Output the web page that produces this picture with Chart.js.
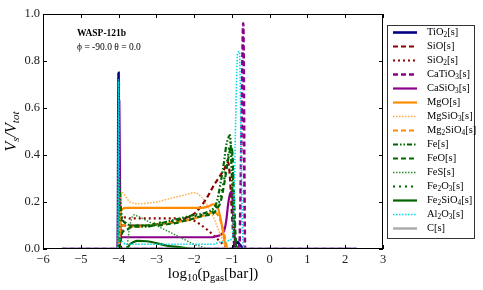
<!DOCTYPE html>
<html>
<head>
<meta charset="utf-8">
<script src="https://cdn.jsdelivr.net/npm/chart.js@4.4.0/dist/chart.umd.min.js"></script>
<style>
    html, body { margin: 0; padding: 0; background: #fff; }
</style>
</head>
<body>
<canvas id="chart" width="483" height="290"></canvas>
<script>
// log10(p_gas) grid shared by every species
const logP = [-5.5, -4.05, -4.02, -4.0, -3.98, -3.95,
    -3.9, -3.8, -3.7, -3.6, -3.5, -3.25,
    -3.0, -2.75, -2.5, -2.25, -2.0, -1.8,
    -1.6, -1.5, -1.4, -1.3, -1.2, -1.15,
    -1.1, -1.05, -1.0, -0.95, -0.9, -0.85,
    -0.8, -0.75, -0.7, -0.65, -0.6, 2.3];

// V_s / V_tot per species
const tio2 = [0, 0, 0, 0.75, 0.04, 0.01,
    0, 0, 0, 0, 0, 0,
    0, 0, 0, 0, 0, 0,
    0, 0, 0, 0, 0, 0,
    0, 0, 0, 0.01, 0.02, 0.03,
    0.02, 0.01, 0, 0, 0, 0];
const sio = [0, 0, 0, 0, 0, 0.04,
    0.1, 0.1, 0.1, 0.1, 0.1, 0.1,
    0.105, 0.11, 0.115, 0.13, 0.15, 0.185,
    0.235, 0.265, 0.29, 0.315, 0.34, 0.36,
    0.37, 0.3, 0.15, 0.03, 0, 0,
    0, 0, 0, 0, 0, 0];
const sio2 = [0, 0, 0, 0, 0, 0.05,
    0.13, 0.135, 0.13, 0.13, 0.13, 0.13,
    0.13, 0.13, 0.13, 0.125, 0.12, 0.1,
    0.075, 0.06, 0.045, 0.03, 0.015, 0.01,
    0, 0, 0, 0, 0, 0,
    0, 0, 0, 0, 0, 0];
const catio3 = [0, 0, 0, 0, 0, 0,
    0, 0, 0, 0, 0, 0,
    0, 0, 0, 0, 0, 0,
    0, 0, 0, 0, 0, 0,
    0, 0, 0, 0, 0, 0,
    0.02, 0.45, 0.96, 0, 0, 0];
const casio3 = [0, 0, 0, 0.5, 0.63, 0.06,
    0.05, 0.05, 0.05, 0.05, 0.05, 0.05,
    0.05, 0.05, 0.05, 0.05, 0.05, 0.05,
    0.05, 0.05, 0.055, 0.06, 0.08, 0.12,
    0.19, 0.235, 0.245, 0.1, 0.01, 0,
    0, 0, 0, 0, 0, 0];
const mgo = [0, 0, 0, 0, 0.05, 0.15,
    0.17, 0.175, 0.175, 0.175, 0.175, 0.175,
    0.175, 0.175, 0.175, 0.175, 0.175, 0.175,
    0.183, 0.19, 0.185, 0.13, 0.04, 0.005,
    0, 0, 0, 0, 0, 0,
    0, 0, 0, 0, 0, 0];
const mgsio3 = [0, 0, 0, 0, 0, 0.2,
    0.24, 0.22, 0.2, 0.195, 0.192, 0.195,
    0.2, 0.21, 0.22, 0.23, 0.24, 0.22,
    0.17, 0.14, 0.1, 0.06, 0.02, 0.01,
    0, 0, 0, 0, 0, 0,
    0, 0, 0, 0, 0, 0];
const mg2sio4 = [0, 0, 0, 0, 0, 0.08,
    0.1, 0.1, 0.095, 0.095, 0.095, 0.1,
    0.105, 0.11, 0.115, 0.12, 0.13, 0.14,
    0.15, 0.155, 0.15, 0.12, 0.06, 0.02,
    0, 0, 0, 0, 0, 0,
    0, 0, 0, 0, 0, 0];
const fe = [0, 0, 0, 0.15, 0.3, 0.2,
    0.13, 0.11, 0.1, 0.095, 0.095, 0.095,
    0.105, 0.115, 0.125, 0.135, 0.145, 0.15,
    0.16, 0.17, 0.2, 0.28, 0.38, 0.44,
    0.47, 0.485, 0.3, 0.1, 0.02, 0,
    0, 0, 0, 0, 0, 0];
const feo = [0, 0, 0, 0, 0, 0.03,
    0.07, 0.08, 0.09, 0.1, 0.1, 0.1,
    0.1, 0.105, 0.11, 0.12, 0.13, 0.14,
    0.145, 0.15, 0.17, 0.2, 0.28, 0.33,
    0.38, 0.42, 0.43, 0.25, 0.05, 0,
    0, 0, 0, 0, 0, 0];
const fes = [0, 0, 0, 0, 0, 0,
    0, 0, 0.1, 0.145, 0.14, 0.12,
    0.1, 0.08, 0.06, 0.04, 0.02, 0.01,
    0, 0, 0, 0, 0, 0,
    0, 0, 0, 0, 0, 0,
    0, 0, 0, 0, 0, 0];
const fe2o3 = [0, 0, 0, 0, 0.1, 0.15,
    0.12, 0.11, 0.1, 0.1, 0.1, 0.1,
    0.11, 0.115, 0.12, 0.13, 0.14, 0.145,
    0.15, 0.16, 0.18, 0.22, 0.3, 0.35,
    0.4, 0.45, 0.42, 0.2, 0.03, 0,
    0, 0, 0, 0, 0, 0];
const fe2sio4 = [0, 0, 0, 0, 0, 0,
    0, 0, 0.02, 0.03, 0.035, 0.033,
    0.025, 0.015, 0.01, 0.005, 0, 0,
    0, 0, 0, 0, 0, 0,
    0, 0, 0, 0, 0, 0,
    0, 0, 0, 0, 0, 0];
const al2o3 = [0, 0, 0, 0.72, 0.05, 0.04,
    0.03, 0.02, 0.02, 0.02, 0.02, 0.02,
    0.02, 0.02, 0.02, 0.02, 0.02, 0.02,
    0.02, 0.02, 0.025, 0.03, 0.03, 0.03,
    0.035, 0.04, 0.04, 0.15, 0.55, 0.83,
    0.84, 0.35, 0.02, 0, 0, 0];
const carbon = [0, 0, 0, 0, 0, 0,
    0, 0, 0, 0, 0, 0,
    0, 0, 0, 0, 0, 0,
    0, 0, 0, 0, 0, 0,
    0, 0, 0, 0, 0, 0,
    0, 0, 0, 0, 0, 0];

const species = ['TiO2[s]', 'SiO[s]', 'SiO2[s]', 'CaTiO3[s]', 'CaSiO3[s]', 'MgO[s]', 'MgSiO3[s]',
    'Mg2SiO4[s]', 'Fe[s]', 'FeO[s]', 'FeS[s]', 'Fe2O3[s]', 'Fe2SiO4[s]', 'Al2O3[s]', 'C[s]'];
const xTicks = [-6, -5, -4, -3, -2, -1, 0, 1, 2, 3];
const yTicks = [0.0, 0.2, 0.4, 0.6, 0.8, 1.0];

const SERIF = '"Liberation Serif", "DejaVu Serif", serif';

// styles: color, dash, width
const styles = [
    ['#000080', [], 2.6],
    ['#8b0000', [5, 3], 2.2],
    ['#8b0000', [2, 3], 2.2],
    ['#8b008b', [5, 3], 2.6],
    ['#8b008b', [], 2.2],
    ['#ff8c00', [], 2.2],
    ['#ffa640', [1.5, 1.5], 1.4],
    ['#ff8c00', [5, 3], 2.2],
    ['#006400', [5, 2, 1.5, 2, 1.5, 2], 2.2],
    ['#006400', [5, 3], 2.2],
    ['#2e8b2e', [1.5, 1.5], 1.4],
    ['#006400', [2, 4], 2.2],
    ['#006400', [], 2.2],
    ['#00d8e8', [1.5, 1.5], 1.6],
    ['#aaaaaa', [], 2.4]
];

const values = [tio2, sio, sio2, catio3, casio3, mgo, mgsio3, mg2sio4, fe, feo, fes, fe2o3, fe2sio4, al2o3, carbon];

const datasets = values.map((vals, i) => ({
    label: species[i],
    data: logP.map((p, j) => ({ x: p, y: vals[j] })),
    borderColor: styles[i][0],
    borderDash: styles[i][1],
    borderWidth: styles[i][2],
    pointRadius: 0,
    fill: false,
    cubicInterpolationMode: 'monotone',
    order: values.length - i
}));

// split a formula into normal and subscript parts
function splitFormula(text) {
    const out = [];
    text.replace(/(\d+)|([^\d]+)/g, (m, d, t) => {
        out.push({ t: m, sub: !!d });
    });
    return out;
}

function partsWidth(ctx, parts, size, style) {
    let w = 0;
    parts.forEach(p => {
        ctx.font = `${style || ''} ${p.sub ? size * 0.7 : size}px ${SERIF}`;
        w += ctx.measureText(p.t).width;
    });
    return w;
}

function drawParts(ctx, parts, x, y, size, style) {
    parts.forEach(p => {
        ctx.font = `${style || ''} ${p.sub ? size * 0.7 : size}px ${SERIF}`;
        ctx.fillText(p.t, x, p.sub ? y + size * 0.25 : y);
        x += ctx.measureText(p.t).width;
    });
}

const framePlugin = {
    id: 'frame',
    afterDraw(chart) {
        const ctx = chart.ctx;
        const a = chart.chartArea;
        const xs = chart.scales.x, ys = chart.scales.y;
        ctx.save();
        ctx.strokeStyle = '#000';
        ctx.lineWidth = 1;
        ctx.strokeRect(a.left + 0.5, a.top + 0.5, a.right - a.left - 1, a.bottom - a.top - 1);
        ctx.beginPath();
        xTicks.forEach(v => {
            const px = Math.round(xs.getPixelForValue(v)) + 0.5;
            ctx.moveTo(px, a.bottom); ctx.lineTo(px, a.bottom - 4);
            ctx.moveTo(px, a.top); ctx.lineTo(px, a.top + 4);
        });
        yTicks.forEach(v => {
            const py = Math.round(ys.getPixelForValue(v)) + 0.5;
            ctx.moveTo(a.left, py); ctx.lineTo(a.left + 4, py);
            ctx.moveTo(a.right, py); ctx.lineTo(a.right - 4, py);
        });
        ctx.stroke();

        // annotation
        ctx.fillStyle = '#000';
        ctx.textBaseline = 'middle';
        ctx.textAlign = 'left';
        ctx.font = `bold 9.5px ${SERIF}`;
        ctx.fillText('WASP-121b', 77, 34);
        drawParts(ctx, [
            { t: 'ϕ', sub: false }, { t: ' = -90.0 ', sub: false },
            { t: 'θ', sub: false }, { t: ' = 0.0', sub: false }
        ], 77, 47, 9.5, '');

        // x title
        const xt = [{ t: 'log', sub: false }, { t: '10', sub: true }, { t: '(p', sub: false },
            { t: 'gas', sub: true }, { t: '[bar])', sub: false }];
        const xw = partsWidth(ctx, xt, 15);
        drawParts(ctx, xt, (a.left + a.right) / 2 - xw / 2, 274, 15);

        // y title
        const yt = [{ t: 'V', sub: false }, { t: 's', sub: true }, { t: '/V', sub: false }, { t: 'tot', sub: true }];
        ctx.save();
        ctx.translate(12, (a.top + a.bottom) / 2);
        ctx.rotate(-Math.PI / 2);
        const yw = partsWidth(ctx, yt, 16, 'italic');
        drawParts(ctx, yt, -yw / 2, 0, 16, 'italic');
        ctx.restore();

        // legend
        const lx = 387, ly = 25, lw = 87, lh = 213;
        ctx.fillStyle = '#fff';
        ctx.fillRect(lx, ly, lw, lh);
        ctx.strokeStyle = '#333';
        ctx.lineWidth = 1;
        ctx.strokeRect(lx + 0.5, ly + 0.5, lw, lh);
        species.forEach((name, i) => {
            const y = 32.5 + i * 14;
            ctx.beginPath();
            ctx.strokeStyle = styles[i][0];
            ctx.setLineDash(styles[i][1]);
            ctx.lineWidth = styles[i][2];
            ctx.moveTo(393, y);
            ctx.lineTo(417, y);
            ctx.stroke();
            ctx.setLineDash([]);
            ctx.fillStyle = '#000';
            drawParts(ctx, splitFormula(name), 427, y, 10.5);
        });
        ctx.restore();
    }
};

new Chart(document.getElementById('chart'), {
    type: 'line',
    data: { datasets: datasets },
    options: {
        responsive: false,
        animation: false,
        devicePixelRatio: 1,
        layout: { padding: { left: 0, right: 100, top: 14, bottom: 0 } },
        plugins: { legend: { display: false }, tooltip: { enabled: false } },
        scales: {
            x: {
                type: 'linear',
                min: -6,
                max: 3,
                afterFit: s => { s.height = 41; },
                afterBuildTicks: s => { s.ticks = xTicks.map(v => ({ value: v })); },
                grid: { display: false, drawTicks: false },
                border: { display: false },
                ticks: {
                    padding: 3,
                    color: '#222',
                    font: { family: SERIF, size: 12.5 },
                    callback: v => String(v).replace('-', '\u2212')
                }
            },
            y: {
                min: 0,
                max: 1,
                afterFit: s => { s.width = 43; },
                afterBuildTicks: s => { s.ticks = yTicks.map(v => ({ value: v })); },
                grid: { display: false, drawTicks: false },
                border: { display: false },
                ticks: {
                    padding: 3,
                    color: '#222',
                    font: { family: SERIF, size: 12.5 },
                    callback: v => Number(v).toFixed(1)
                }
            }
        }
    },
    plugins: [framePlugin]
});
</script>
</body>
</html>
